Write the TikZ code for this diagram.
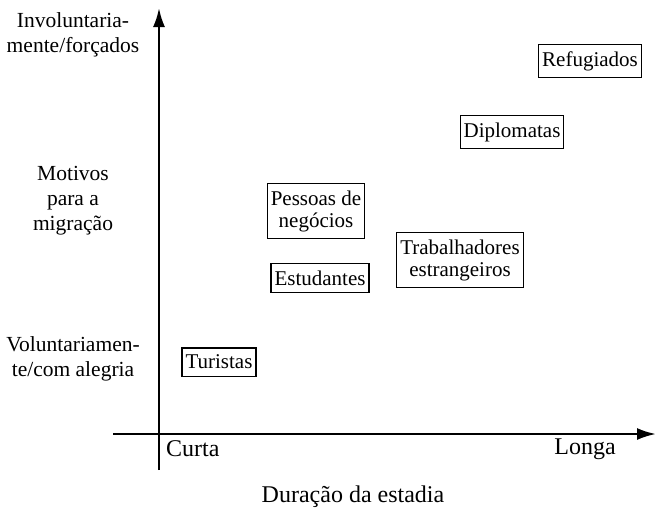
\documentclass[tikz,border=0pt]{standalone}
\usepackage{fontspec}
\setmainfont{Liberation Serif}
\usetikzlibrary{arrows.meta,positioning}

\tikzset{
  grupo/.style={draw, line width=1.1pt, inner xsep=3.5pt, inner ysep=7pt,
    align=center, font=\fontsize{21}{22}\selectfont},
  rotulo/.style={align=center, inner sep=0pt, font=\fontsize{21.5}{25}\selectfont},
  eixotxt/.style={inner sep=0pt, font=\fontsize{24}{27}\selectfont},
  eixo/.style={line width=2.4pt, -{Latex[length=19pt,width=12pt]}}
}

\begin{document}
\begin{tikzpicture}[x=1pt,y=-1pt]
        \useasboundingbox (0,0) rectangle (656,515);

        % eixos
        \coordinate (ybot) at (159,470);
        \coordinate (ytop) at (159,8);
        \coordinate (xleft) at (113,434);
        \coordinate (xright) at (656,434);
        \draw[eixo] (ybot) -- (ytop);
        \draw[eixo] (xleft) -- (xright);

        % rotulos do eixo vertical
        \node[rotulo] (invol) at (73,35) {Involuntaria-\\mente/forçados};
        \node[rotulo] (motiv) at (73,201) {Motivos\\para a\\migração};
        \node[rotulo] (volun) at (73,359) {Voluntariamen-\\te/com alegria};

        % rotulos do eixo horizontal
        \node[eixotxt, anchor=west] (curta) at (166,449) {Curta};
        \node[eixotxt, anchor=east] (longa) at (616,449) {Longa};
        \node[eixotxt] (durac) at (353,497) {Duração da estadia};

        % grupos
        \node[grupo] (refug) at (590,61) {Refugiados};
        \node[grupo] (diplo) at (512,132) {Diplomatas};
        \node[grupo] (pesso) at (316,211) {Pessoas de\\negócios};
        \node[grupo] (estud) at (320,278) {Estudantes};
        \node[grupo] (traba) at (460,260) {Trabalhadores\\estrangeiros};
        \node[grupo] (turis) at (219,362) {Turistas};
    \end{tikzpicture}
\end{document}
